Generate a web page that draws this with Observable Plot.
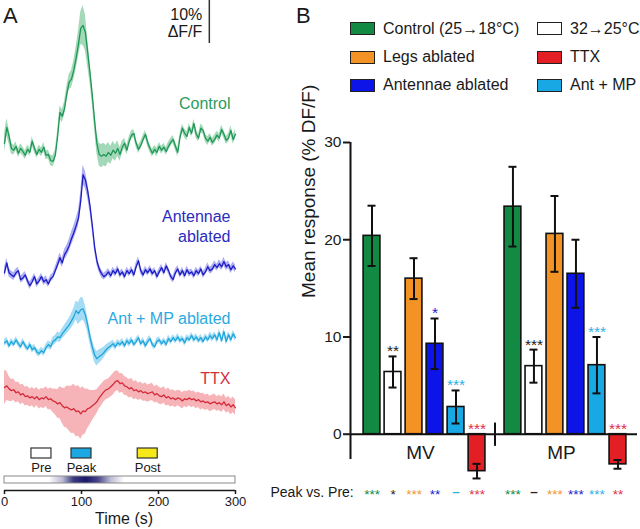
<!DOCTYPE html>
<html>
<head>
<meta charset="utf-8">
<script src="https://cdn.jsdelivr.net/npm/d3@7"></script>
<script src="https://cdn.jsdelivr.net/npm/@observablehq/plot@0.6"></script>
<style>
html, body { margin:0; padding:0; background:#fff; }
body { font-family: "Liberation Sans", Arial, Helvetica, sans-serif; color:#1a1a1a; }
#fig { position:relative; width:640px; height:529px; overflow:hidden; background:#fff; }
.abs { position:absolute; }
.panel-letter { position:absolute; font-size:22px; line-height:1; }
.leg { position:absolute; display:flex; align-items:center; height:20px; font-size:16px; white-space:nowrap; color:#1a1a1a; }
.sw { width:25px; height:13px; box-sizing:border-box; border:1.5px solid #222; margin-right:8px; flex:none; }
</style>
</head>
<body>
<div id="fig">
  <div id="traces" class="abs" style="left:0; top:0; width:250px; height:440px;"></div>
  <div id="timeaxis" class="abs" style="left:0; top:440px; width:250px; height:89px;"></div>
  <div id="bars" class="abs" style="left:250px; top:0; width:390px; height:529px;"></div>
  <div id="legend"></div>
  <div class="panel-letter" style="left:3px; top:5px;">A</div>
  <div class="panel-letter" style="left:296px; top:5px;">B</div>
</div>
<script>
// ---------------- DATA: panel A (mean ΔF/F traces, %, sampled every 3 s) ----------------
const times = d3.range(0, 301, 3);

const controlTrace = [
  2.1, 5.8, 3.7, 0.9, 0.5, 1.4, -0.2, 0.9, 0.2, -0.7,
  0.7, 0.0, 2.6, 0.9, -0.5, 0.7, 0.0, 1.2, -0.7, -0.5,
  -1.9, -2.1, -0.7, 3.7, 9.3, 8.4, 10.2, 13.7, 16.3, 17.0,
  19.1, 21.9, 25.1, 28.8, 29.5, 27.9, 23.3, 18.6, 13.3, 7.4,
  2.1, -0.5, -0.9, -0.5, -0.9, 0.0, -0.7, 0.5, -0.2, 0.9,
  -0.5, 1.2, 2.1, 0.5, 2.6, 4.0, 4.4, 2.1, 0.7, 1.6,
  3.0, 4.2, 2.3, 0.9, -0.2, 0.7, 0.0, 1.4, 0.5, 1.2,
  0.2, 1.4, 2.3, 3.0, 1.4, 0.0, 3.5, 5.6, 4.4, 3.7,
  5.8, 4.4, 6.7, 4.2, 3.3, 5.6, 5.1, 3.3, 2.6, 3.5,
  2.3, 3.0, 4.0, 3.3, 5.3, 4.2, 2.8, 3.3, 5.1, 3.0,
  4.2
];
const controlSem = [
  2.2, 2.0, 1.7, 1.3, 1.1, 1.0, 1.0, 1.1, 1.0, 1.0,
  1.0, 0.9, 1.1, 1.0, 0.9, 1.0, 1.0, 1.1, 1.0, 1.0,
  1.2, 1.3, 1.3, 1.4, 1.5, 1.5, 1.6, 1.7, 1.8, 2.0,
  2.2, 2.6, 3.0, 3.8, 4.6, 4.2, 3.2, 2.4, 2.0, 2.2,
  2.4, 2.6, 2.7, 2.6, 2.5, 2.3, 2.1, 2.0, 1.9, 1.8,
  1.6, 1.4, 1.2, 1.1, 1.0, 1.0, 0.9, 0.9, 1.0, 0.9,
  0.9, 0.9, 1.0, 0.9, 0.9, 0.9, 1.0, 0.9, 0.9, 0.9,
  0.9, 1.0, 0.9, 0.9, 1.0, 1.0, 0.9, 0.9, 1.0, 1.0,
  0.9, 0.9, 1.0, 1.0, 0.9, 1.0, 0.9, 0.9, 1.0, 0.9,
  0.9, 1.0, 0.9, 1.0, 1.0, 0.9, 0.9, 1.0, 1.0, 1.1,
  1.1
];

const antennaeTrace = [
  1.4, 3.7, 1.4, 0.9, 0.5, 1.4, 1.9, -0.2, 0.2, 0.9,
  -0.5, -1.6, -0.7, 0.5, -1.2, -0.5, 0.5, -0.7, -0.2, -1.2,
  0.0, 0.5, 1.9, 3.3, 4.9, 3.7, 5.6, 6.5, 7.7, 9.3,
  10.7, 12.3, 14.0, 18.1, 24.2, 23.0, 20.5, 17.0, 12.5, 7.5,
  4.2, 2.3, 1.2, 0.5, 0.9, 1.6, 0.7, 1.9, 1.2, 2.3,
  0.9, 1.6, 0.5, 1.9, 1.2, 2.1, 0.9, 2.8, 4.2, 1.9,
  0.9, 2.1, 1.4, 2.3, 1.2, 1.9, 0.5, 1.6, 2.6, 1.4,
  3.0, 1.9, 0.5, -0.2, 1.4, 2.3, 0.9, 1.9, 0.7, 2.1,
  1.2, 1.6, 0.7, 1.9, 1.2, 2.3, 0.9, 1.6, 2.8, 1.9,
  2.3, 3.3, 2.6, 3.5, 2.8, 4.0, 2.8, 3.3, 2.1, 3.0,
  2.3
];
const antennaeSem = [
  1.2, 1.1, 1.0, 0.9, 0.9, 0.9, 0.8, 0.8, 0.9, 0.8,
  0.8, 0.9, 0.8, 0.8, 0.9, 0.8, 0.8, 0.8, 0.9, 0.8,
  0.8, 0.8, 0.9, 1.0, 1.1, 1.1, 1.2, 1.3, 1.4, 1.5,
  1.6, 1.7, 1.8, 2.0, 2.2, 2.0, 1.8, 1.5, 1.3, 1.1,
  1.0, 0.9, 0.9, 0.8, 0.8, 0.8, 0.8, 0.8, 0.8, 0.8,
  0.8, 0.7, 0.8, 0.8, 0.7, 0.8, 0.8, 0.9, 0.9, 0.8,
  0.8, 0.8, 0.7, 0.8, 0.8, 0.7, 0.8, 0.8, 0.8, 0.7,
  0.8, 0.8, 0.7, 0.8, 0.8, 0.8, 0.7, 0.8, 0.8, 0.8,
  0.8, 0.7, 0.8, 0.8, 0.8, 0.7, 0.8, 0.8, 0.9, 0.8,
  0.9, 0.9, 0.8, 0.9, 0.9, 1.0, 0.9, 0.9, 0.9, 0.9,
  0.9
];

const antMpTrace = [
  0.2, 0.7, -0.5, 0.5, -0.2, 0.9, 0.0, -0.7, 0.5, -0.5,
  -1.2, -0.2, -1.4, -0.9, -1.9, -2.3, -1.6, -2.1, -0.9, -0.2,
  -0.7, 0.5, 0.9, 1.6, 1.4, 2.3, 3.0, 3.7, 4.4, 5.3,
  6.3, 7.7, 7.0, 7.9, 8.1, 6.7, 4.4, 1.6, -0.7, -2.6,
  -3.5, -3.0, -2.6, -2.1, -1.4, -0.9, -0.5, 0.0, -0.7, 0.2,
  -0.2, 0.5, -0.5, 0.7, 0.0, 0.9, -0.2, 0.5, 1.4, 0.0,
  0.7, -0.5, 0.5, 1.2, -0.2, -0.7, 0.5, 0.9, 0.0, 0.7,
  -0.2, 1.2, 0.5, 1.4, 0.7, 1.6, 0.7, 1.2, 0.2, 1.4,
  0.9, 1.9, 0.9, 1.6, 0.7, 1.4, 0.5, 1.6, 0.9, 1.9,
  1.2, 2.1, 0.9, 2.6, 0.7, 2.8, 0.5, 2.1, 0.9, 2.3,
  1.4
];
const antMpSem = [
  0.8, 0.8, 0.7, 0.7, 0.7, 0.7, 0.7, 0.7, 0.7, 0.7,
  0.7, 0.7, 0.8, 0.7, 0.8, 0.8, 0.8, 0.8, 0.8, 0.9,
  0.9, 1.0, 1.0, 1.1, 1.1, 1.2, 1.3, 1.4, 1.5, 1.7,
  1.9, 2.2, 2.6, 2.8, 2.6, 2.2, 1.8, 1.6, 1.6, 1.7,
  1.7, 1.6, 1.5, 1.3, 1.1, 1.0, 0.9, 0.8, 0.8, 0.8,
  0.7, 0.8, 0.7, 0.7, 0.8, 0.7, 0.7, 0.8, 0.7, 0.7,
  0.7, 0.7, 0.8, 0.7, 0.7, 0.7, 0.8, 0.7, 0.7, 0.7,
  0.7, 0.8, 0.7, 0.7, 0.7, 0.8, 0.7, 0.7, 0.8, 0.7,
  0.7, 0.7, 0.8, 0.7, 0.7, 0.8, 0.7, 0.7, 0.7, 0.8,
  0.8, 0.7, 0.8, 0.8, 0.7, 0.8, 0.8, 0.7, 0.8, 0.8,
  0.8
];

const ttxTrace = [
  1.9, 2.3, 1.6, 1.2, 1.4, 0.7, 0.9, 0.2, 0.5, -0.2,
  0.0, -0.5, -0.2, -0.7, -0.2, -0.9, -0.5, -0.7, -0.2, -0.9,
  -0.7, -1.2, -1.4, -1.9, -1.6, -2.3, -2.8, -2.6, -3.0, -3.3,
  -3.0, -3.7, -3.5, -4.2, -3.5, -3.7, -3.0, -2.8, -2.3, -1.9,
  -1.4, -0.5, 0.2, 0.9, 1.4, 1.6, 2.1, 2.6, 3.3, 3.5,
  2.8, 3.0, 2.3, 2.1, 1.6, 1.9, 1.2, 1.4, 0.9, 1.2,
  0.7, 0.9, 0.5, 0.7, 0.9, 0.2, 0.5, 0.0, -0.2, 0.2,
  -0.5, -0.2, -0.7, -0.5, -0.9, -0.5, -0.7, -1.2, -0.7, -0.9,
  -0.5, -0.9, -0.7, -1.2, -0.9, -1.4, -1.2, -1.6, -1.4, -1.9,
  -1.6, -1.4, -1.9, -1.6, -2.1, -1.4, -2.3, -1.9, -2.6, -2.1,
  -2.8
];
const ttxSem = [
  4.0, 3.4, 2.9, 2.6, 2.5, 2.4, 2.3, 2.3, 2.2, 2.2,
  2.2, 2.1, 2.1, 2.2, 2.1, 2.2, 2.2, 2.3, 2.3, 2.4,
  2.5, 2.7, 3.0, 3.3, 3.7, 4.1, 4.5, 4.9, 5.2, 5.5,
  5.7, 5.8, 5.9, 5.9, 5.6, 5.2, 4.6, 4.0, 3.5, 3.1,
  2.8, 2.6, 2.5, 2.4, 2.3, 2.3, 2.4, 2.5, 2.4, 2.3,
  2.3, 2.2, 2.2, 2.1, 2.1, 2.2, 2.1, 2.1, 2.0, 2.0,
  2.0, 2.1, 2.0, 2.0, 2.0, 1.9, 2.0, 2.0, 1.9, 1.9,
  1.9, 2.0, 1.9, 1.9, 1.9, 1.8, 1.9, 1.9, 1.8, 1.9,
  1.8, 1.9, 1.8, 1.8, 1.8, 1.9, 1.8, 1.8, 1.8, 1.8,
  1.8, 1.8, 1.7, 1.8, 1.8, 1.8, 1.7, 1.8, 1.8, 1.8,
  1.8
];

const traceNames = ["Control", "Antennae\nablated", "Ant + MP ablated", "TTX"];
const scaleBarPct = 10;
const timeTicks = [0, 100, 200, 300];

// analysis windows (s) and stimulus profile
const epochNames = ["Pre", "Peak", "Post"];
const epochStart = [35, 87, 173];
const epochEnd = [61, 113, 199];
const stimTimes = [58, 76, 90, 106, 122, 138, 156];
const stimLevel = [0, 0.3, 0.85, 1, 0.8, 0.3, 0];

// ---------------- DATA: panel B (mean response, % DF/F) ----------------
const conditions = ["Control (25→18°C)", "32→25°C", "Legs ablated", "Antennae ablated", "Ant + MP", "TTX"];
const groups = ["MV", "MP"];
const mvMean = [20.4, 6.4, 16.0, 9.3, 2.8, -3.8];
const mvErr  = [3.1, 1.6, 2.1, 2.6, 1.7, 0.75];
const mpMean = [23.4, 7.0, 20.6, 16.5, 7.1, -3.1];
const mpErr  = [4.1, 1.7, 3.9, 3.5, 2.9, 0.45];
const mvSig = ["", "**", "", "*", "***", "***"];
const mpSig = ["", "***", "", "", "***", "***"];
const mvPeakVsPre = ["***", "*", "***", "**", "–", "***"];
const mpPeakVsPre = ["***", "–", "***", "***", "***", "**"];
const yTicks = [0, 10, 20, 30];
const legendOrder = [0, 2, 3, 1, 5, 4];

// ---------------- STYLES ----------------
const traceLine = ["#1f9656", "#1c1cc4", "#1ea6dc", "#d42a3a"];
const traceBand = ["#a3d9b8", "#aeaef4", "#a6dcf3", "#f6b4b8"];
const traceText = ["#2a9c5c", "#2b2bc0", "#2aaae0", "#d3303e"];
const barFill = ["#138a43", "#ffffff", "#f39325", "#0c14e8", "#18a8e4", "#e31e25"];
const sigFill = ["#138a43", "#222222", "#f0982e", "#1a1ad0", "#2db0e6", "#e0304d"];
const epochFill = {Pre: "#ffffff", Peak: "#1aa7e2", Post: "#f7e81a"};
const FONT = "'Liberation Sans', Arial, Helvetica, sans-serif";

// ---------------- PANEL A: traces ----------------
const traceSets = [
  [controlTrace, controlSem], [antennaeTrace, antennaeSem],
  [antMpTrace, antMpSem], [ttxTrace, ttxSem]
];
const stackOffset = [-35.3, -64.7, -79.8, -91.9];
const traceRows = traceSets.flatMap(([vals, sems], k) =>
  times.map((t, i) => ({
    k, t,
    v: vals[i] + stackOffset[k],
    lo: vals[i] - sems[i] + stackOffset[k],
    hi: vals[i] + sems[i] + stackOffset[k]
  })).filter(d => Number.isFinite(d.v))
);
const labelRows = traceNames.map((name, k) => ({name, k, y: stackOffset[k]}));
const labelShift = [-50, -53, -26, -18];

const tracePlot = Plot.plot({
  width: 250, height: 440,
  marginTop: 0, marginBottom: 0, marginLeft: 4, marginRight: 15,
  style: {fontFamily: FONT, background: "transparent", overflow: "visible", color: "#1a1a1a"},
  x: {domain: [0, 300], axis: null},
  y: {domain: [-102.3, 0], axis: null},
  color: {type: "identity"},
  marks: [
    Plot.areaY(traceRows, {x: "t", y1: "lo", y2: "hi", z: "k", fill: d => traceBand[d.k]}),
    Plot.lineY(traceRows, {x: "t", y: "v", z: "k", stroke: d => traceLine[d.k], strokeWidth: 1.3}),
    ...labelRows.map((d) => Plot.text([d], {
      x: 300, y: "y", text: "name", textAnchor: "end", lineAnchor: "middle", dx: -5, dy: labelShift[d.k],
      fill: traceText[d.k], fontSize: 16, lineHeight: 1.25
    })),
    Plot.ruleX([scaleBarPct], {x: 266, y1: 0, y2: d => -d, stroke: "#333", strokeWidth: 1.5}),
    Plot.text([`${scaleBarPct}%\nΔF/F`], {x: 266, y: -scaleBarPct / 2, textAnchor: "end", lineAnchor: "middle",
      dx: -7, dy: 1, fontSize: 16, lineHeight: 1.1, fill: "#1a1a1a"})
  ]
});
document.getElementById("traces").appendChild(tracePlot);

// ---------------- PANEL A: windows, stimulus bar and time axis ----------------
const epochRows = epochNames.map((name, i) => ({name, start: epochStart[i], end: epochEnd[i]}));
const stimRow = [{start: timeTicks[0], end: timeTicks[timeTicks.length - 1]}];

const timePlot = Plot.plot({
  width: 250, height: 89,
  marginTop: 0, marginBottom: 39, marginLeft: 4, marginRight: 15,
  style: {fontFamily: FONT, background: "transparent", overflow: "visible", color: "#1a1a1a"},
  x: {domain: [0, 300]},
  y: {domain: [0, 1], axis: null},
  color: {type: "identity"},
  marks: [
    Plot.rect(epochRows, {x1: "start", x2: "end", fill: d => epochFill[d.name], stroke: "#333",
      strokeWidth: 1.2, insetTop: 8, insetBottom: 32}),
    Plot.text(epochRows, {x: d => (d.start + d.end) / 2, text: "name", frameAnchor: "top", lineAnchor: "middle",
      dy: 27, fontSize: 13, fill: "#1a1a1a"}),
    Plot.rect(stimRow, {x1: "start", x2: "end", fill: "url(#stimGrad)", stroke: "#8a8a8a",
      strokeWidth: 1, insetTop: 36, insetBottom: 7}),
    Plot.ruleY([0], {x1: timeTicks[0], x2: timeTicks[timeTicks.length - 1], stroke: "#1a1a1a", strokeWidth: 1.6}),
    Plot.axisX({ticks: timeTicks, tickSize: 4, tickPadding: 2, fontSize: 13, label: null, strokeWidth: 1.5}),
    Plot.text(["Time (s)"], {frameAnchor: "bottom", lineAnchor: "middle", dy: 28, dx: 4, fontSize: 16, fill: "#1a1a1a"})
  ]
});
{
  const defs = d3.select(timePlot).insert("defs", ":first-child");
  const g = defs.append("linearGradient").attr("id", "stimGrad").attr("x1", "0").attr("x2", "1")
    .attr("y1", "0").attr("y2", "0");
  const col = d3.interpolateRgb("#ffffff", "#1a186a");
  g.append("stop").attr("offset", "0").attr("stop-color", "#ffffff");
  stimTimes.forEach((t, i) => {
    g.append("stop").attr("offset", (t / 300).toFixed(4)).attr("stop-color", col(stimLevel[i]));
  });
  g.append("stop").attr("offset", "1").attr("stop-color", "#ffffff");
}
document.getElementById("timeaxis").appendChild(timePlot);

// ---------------- PANEL B: bar chart ----------------
const GROUP_STEP = 6.71;
const xDomain = [-1.024, 12.64];
const yDomain = [-2.6, 30];
const barRows = groups.flatMap((g, gi) => {
  const means = gi === 0 ? mvMean : mpMean;
  const errs = gi === 0 ? mvErr : mpErr;
  const sig = gi === 0 ? mvSig : mpSig;
  const pvp = gi === 0 ? mvPeakVsPre : mpPeakVsPre;
  return conditions.map((c, ci) => ({
    group: g, cond: c, ci, pos: gi * GROUP_STEP + ci,
    mean: means[ci], err: errs[ci], sig: sig[ci], pvp: pvp[ci]
  }));
});
const capRows = barRows.flatMap(d => [{...d, y: d.mean - d.err}, {...d, y: d.mean + d.err}]);
const groupRows = groups.map((g, gi) => ({g, pos: gi * GROUP_STEP + (conditions.length - 1) / 2}));
const breakPos = [(conditions.length - 1 + GROUP_STEP) / 2];

const barPlot = Plot.plot({
  width: 390, height: 529,
  marginTop: 142, marginBottom: 70, marginLeft: 100, marginRight: 3,
  style: {fontFamily: FONT, background: "transparent", overflow: "visible", color: "#1a1a1a"},
  x: {domain: xDomain, axis: null},
  y: {domain: yDomain, axis: null},
  color: {type: "identity"},
  marks: [
    Plot.rect(barRows, {x1: d => d.pos - 0.4, x2: d => d.pos + 0.4, y1: 0, y2: "mean",
      fill: d => barFill[d.ci], stroke: "#111", strokeWidth: 1.6}),
    Plot.ruleX(barRows, {x: "pos", y1: d => d.mean - d.err, y2: d => d.mean + d.err,
      stroke: "#111", strokeWidth: 2}),
    Plot.ruleY(capRows, {y: "y", x1: d => d.pos - 0.19, x2: d => d.pos + 0.19,
      stroke: "#111", strokeWidth: 2}),
    Plot.ruleY([0], {stroke: "#111", strokeWidth: 2}),
    Plot.ruleX([xDomain[0]], {y1: yDomain[0], y2: yDomain[1], stroke: "#111", strokeWidth: 2}),
    Plot.axisY({ticks: yTicks, tickSize: 7, tickPadding: 2, fontSize: 15.5, label: null, strokeWidth: 2}),
    Plot.ruleX(breakPos, {x: d => d, y1: -1.25, y2: 1.15, stroke: "#111", strokeWidth: 2}),
    Plot.text(barRows.filter(d => d.sig), {x: "pos", y: d => Math.max(0, d.mean + d.err), text: "sig",
      lineAnchor: "middle", fill: d => sigFill[d.ci], fontSize: 15.5, dy: -5}),
    Plot.text(groupRows, {x: "pos", y: 0, text: "g", lineAnchor: "middle", dy: 19, dx: -4, fontSize: 19, fill: "#1a1a1a"}),
    Plot.text(["Mean response (% DF/F)"], {frameAnchor: "left", lineAnchor: "middle", rotate: -90, dx: -42, dy: -3,
      fontSize: 19, fill: "#1a1a1a"}),
    Plot.text(["Peak vs. Pre:"], {frameAnchor: "bottom-left", textAnchor: "start", lineAnchor: "middle",
      dx: -80, dy: 33, fontSize: 14, fill: "#1a1a1a"}),
    Plot.text(barRows.filter(d => d.pvp !== "–"), {x: "pos", frameAnchor: "bottom", lineAnchor: "middle",
      text: "pvp", dy: 35, fill: d => sigFill[d.ci], fontSize: 13.5}),
    Plot.text(barRows.filter(d => d.pvp === "–"), {x: "pos", frameAnchor: "bottom", lineAnchor: "middle",
      text: "pvp", dy: 32, fill: d => sigFill[d.ci], fontSize: 13.5, fontWeight: "bold"})
  ]
});
document.getElementById("bars").appendChild(barPlot);

// ---------------- PANEL B: legend ----------------
{
  const legend = document.getElementById("legend");
  const colLeft = [350, 537];
  const rowMid = [28.5, 57, 85];
  legendOrder.forEach((ci, j) => {
    const item = document.createElement("div");
    item.className = "leg";
    item.style.left = colLeft[Math.floor(j / 3)] + "px";
    item.style.top = (rowMid[j % 3] - 10) + "px";
    const sw = document.createElement("div");
    sw.className = "sw";
    sw.style.background = barFill[ci];
    const label = document.createElement("span");
    label.textContent = conditions[ci];
    item.appendChild(sw);
    item.appendChild(label);
    legend.appendChild(item);
  });
}
</script>
</body>
</html>
